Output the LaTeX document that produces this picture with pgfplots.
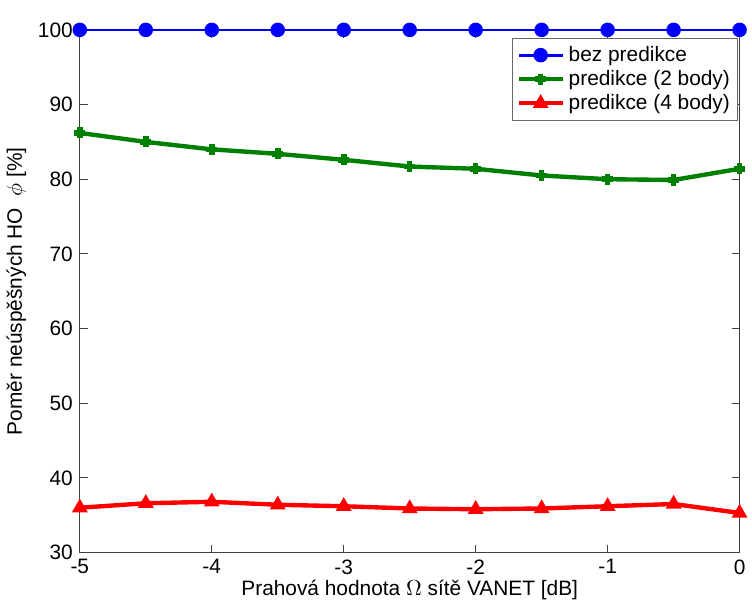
\documentclass[border={0pt 1pt 0pt 8pt}]{standalone}
\usepackage{fontspec}
\setmainfont{Liberation Sans}
\usepackage{pgfplots}
\pgfplotsset{compat=1.18}
\definecolor{mblue}{RGB}{0,0,255}
\definecolor{mgreen}{RGB}{0,128,0}
\definecolor{mred}{RGB}{255,0,0}

\begin{document}
\begin{tikzpicture}
\begin{axis}[
  scale only axis, width=332pt, height=263pt,
  xmin=-5, xmax=0, ymin=30, ymax=100,
  xtick={-5,-4,...,0}, ytick={30,40,...,100},
  tick align=inside, tick pos=both,
  major tick length=4pt,
  axis line style={draw=black!75},
  every tick/.style={draw=black!75},
  /pgf/number format/assume math mode=true,
  tick label style={font=\fontsize{10.5}{12}\selectfont},
  label style={font=\fontsize{10.5}{12}\selectfont},
  xlabel={Prahová hodnota $\Omega$ sítě VANET [dB]},
  ylabel={Poměr neúspěšných HO\ \ $\phi$ [\%]},
  xlabel style={yshift=4pt},
  ylabel style={yshift=-1pt},
  legend style={font=\fontsize{10.5}{12}\selectfont, at={(0.998,0.985)}, anchor=north east,
    draw=black!60, cells={anchor=west}, row sep=-1pt, inner sep=2pt},
  legend image code/.code={
    \draw[mark repeat=2, mark phase=2, #1] plot coordinates {(0pt,0pt) (11pt,0pt) (22pt,0pt)};
  },
]
\addplot[mblue, line width=1.5pt, mark=*, mark size=2.9pt] coordinates
  {(-5,100) (-4.5,100) (-4,100) (-3.5,100) (-3,100) (-2.5,100)
   (-2,100) (-1.5,100) (-1,100) (-0.5,100) (0,100)};
\addplot[mgreen, line width=2.2pt, mark=+, mark size=2.8pt,
  mark options={line width=2.8pt}] coordinates
  {(-5,86.2) (-4.5,85.0) (-4,84.0) (-3.5,83.4) (-3,82.6) (-2.5,81.7)
   (-2,81.4) (-1.5,80.5) (-1,80.0) (-0.5,79.9) (0,81.4)};
\addplot[mred, line width=2.2pt, mark=triangle*, mark size=2.4pt] coordinates
  {(-5,36.0) (-4.5,36.6) (-4,36.8) (-3.5,36.4) (-3,36.2) (-2.5,35.9)
   (-2,35.8) (-1.5,35.9) (-1,36.2) (-0.5,36.5) (0,35.3)};
\legend{bez predikce, predikce (2 body), predikce (4 body)}
\end{axis}
\end{tikzpicture}
\end{document}
